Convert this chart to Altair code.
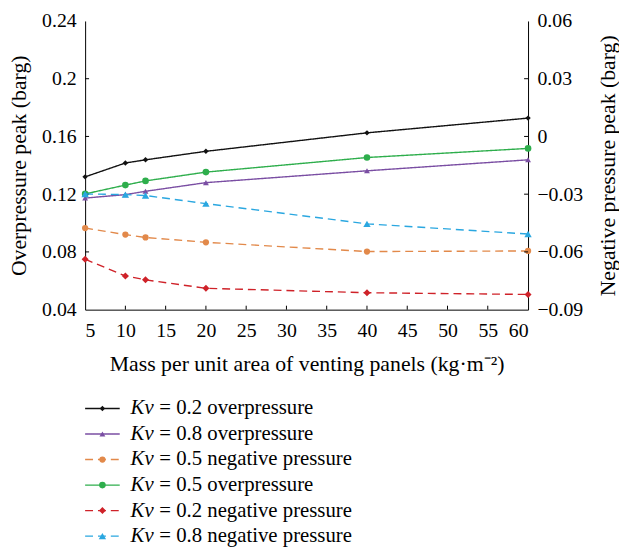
import altair as alt
import pandas as pd

mass = [5, 10, 12.5, 20, 40, 60]
kv02_over = [0.132, 0.1416, 0.1438, 0.1497, 0.1625, 0.1727]
kv08_over = [0.1173, 0.1197, 0.1220, 0.1280, 0.1362, 0.1438]
kv05_neg = [-0.0476, -0.0510, -0.0525, -0.0550, -0.0598, -0.0595]
kv05_over = [0.1202, 0.1263, 0.1292, 0.1353, 0.1454, 0.1517]
kv02_neg = [-0.0638, -0.0725, -0.0745, -0.0789, -0.0812, -0.0821]
kv08_neg = [-0.0299, -0.0302, -0.0307, -0.0349, -0.0454, -0.0507]

series_names = [
    "Kv = 0.2 overpressure",
    "Kv = 0.8 overpressure",
    "Kv = 0.5 negative pressure",
    "Kv = 0.5 overpressure",
    "Kv = 0.2 negative pressure",
    "Kv = 0.8 negative pressure",
]
series_values = [kv02_over, kv08_over, kv05_neg, kv05_over, kv02_neg, kv08_neg]
series_side = ["left", "left", "right", "left", "right", "right"]
legend_rest = [
    "= 0.2 overpressure",
    "= 0.8 overpressure",
    "= 0.5 negative pressure",
    "= 0.5 overpressure",
    "= 0.2 negative pressure",
    "= 0.8 negative pressure",
]
colors = ["#111111", "#7a4ea3", "#e2894a", "#2eae4c", "#cf2229", "#2aa7e0"]
shapes = ["diamond", "triangle-up", "circle", "circle", "diamond", "triangle-up"]
sizes = [30, 55, 75, 55, 42, 55]
dashes = [[1, 0], [1, 0], [8, 5], [1, 0], [8, 5], [8, 5]]

x_ticks = list(range(5, 61, 5))
left_ticks = [0.04, 0.08, 0.12, 0.16, 0.20, 0.24]
right_ticks = [-0.09, -0.06, -0.03, 0, 0.03, 0.06]

FONT = "Liberation Serif"
W, H = 448, 292

rows = []
for name, vals, side in zip(series_names, series_values, series_side):
    for m, v in zip(mass, vals):
        rows.append({"series": name, "mass": m, "value": v, "side": side})
df = pd.DataFrame(rows)

color = alt.Color("series:N", scale=alt.Scale(domain=series_names, range=colors), legend=None)
shape = alt.Shape("series:N", scale=alt.Scale(domain=series_names, range=shapes), legend=None)
size = alt.Size("series:N", scale=alt.Scale(domain=series_names, range=sizes), legend=None)
dash = alt.StrokeDash("series:N", scale=alt.Scale(domain=series_names, range=dashes), legend=None)

xenc = alt.X(
    "mass:Q",
    scale=alt.Scale(domain=[5, 60], nice=False, zero=False),
    axis=alt.Axis(values=x_ticks, title="Mass per unit area of venting panels (kg·m⁻²)",
                  labelPadding=11, titlePadding=14),
)
yleft = alt.Y(
    "value:Q",
    scale=alt.Scale(domain=[0.04, 0.24], nice=False, zero=False),
    axis=alt.Axis(values=left_ticks, format=".2~f", title="Overpressure peak (barg)",
                  labelPadding=9, titlePadding=11),
)
yright = alt.Y(
    "value:Q",
    scale=alt.Scale(domain=[-0.09, 0.06], nice=False, zero=False),
    axis=alt.Axis(values=right_ticks, format=".2~f", orient="right",
                  title="Negative pressure peak (barg)", titleAngle=270, titleBaseline="top",
                  labelPadding=9, titlePadding=15),
)

base = alt.Chart(df)
left_df = base.transform_filter(alt.datum.side == "left")
right_df = base.transform_filter(alt.datum.side == "right")

left_lines = left_df.mark_line(strokeWidth=1.4).encode(x=xenc, y=yleft, color=color, strokeDash=dash, detail="series:N")
left_pts = left_df.mark_point(filled=True, opacity=1).encode(x=xenc, y=yleft, color=color, shape=shape, size=size)
lt_df = pd.DataFrame({"value": left_ticks[1:-1]})
left_tk = alt.Chart(lt_df).mark_rule(color="black", strokeWidth=1).encode(
    y=yleft, x=alt.value(0), x2=alt.value(4))
left_layer = alt.layer(left_lines, left_pts, left_tk)

right_lines = right_df.mark_line(strokeWidth=1.4).encode(x=xenc, y=yright, color=color, strokeDash=dash, detail="series:N")
right_pts = right_df.mark_point(filled=True, opacity=1).encode(x=xenc, y=yright, color=color, shape=shape, size=size)
rt_df = pd.DataFrame({"value": right_ticks[1:-1]})
right_tk = alt.Chart(rt_df).mark_rule(color="black", strokeWidth=1).encode(
    y=yright, x=alt.value(W), x2=alt.value(W - 4))
right_layer = alt.layer(right_lines, right_pts, right_tk)

bt_df = pd.DataFrame({"mass": x_ticks[1:-1]})
bottom_tk = alt.Chart(bt_df).mark_rule(color="black", strokeWidth=1).encode(
    x=xenc, y=alt.value(H), y2=alt.value(H - 4))

main = alt.layer(left_layer, right_layer, bottom_tk).resolve_scale(y="independent").properties(
    width=W, height=H, view=alt.ViewBackground(stroke="black", strokeWidth=1))

leg_df = pd.DataFrame({
    "idx": list(range(len(series_names))),
    "series": series_names,
    "kv": ["Kv"] * len(series_names),
    "rest": legend_rest,
})
ly = alt.Y("idx:O", axis=None)
lbase = alt.Chart(leg_df)
leg_line = lbase.mark_rule(strokeWidth=1.4).encode(y=ly, x=alt.value(0), x2=alt.value(35), color=color, strokeDash=dash)
leg_pt = lbase.mark_point(filled=True, opacity=1).encode(y=ly, x=alt.value(17.5), color=color, shape=shape, size=size)
leg_kv = lbase.mark_text(align="left", baseline="middle", font=FONT, fontSize=21, fontStyle="italic", color="black").encode(
    y=ly, x=alt.value(46), text="kv:N")
leg_rest = lbase.mark_text(align="left", baseline="middle", font=FONT, fontSize=21, color="black").encode(
    y=ly, x=alt.value(75), text="rest:N")
legend = alt.layer(leg_line, leg_pt, leg_kv, leg_rest).properties(
    width=300, height=155, view=alt.ViewBackground(strokeOpacity=0))

chart = alt.vconcat(main, legend, spacing=21).configure(
    padding=0, font=FONT
).configure_view(
    strokeOpacity=0
).configure_axis(
    grid=False, ticks=False, domainColor="black", domainWidth=1,
    labelFont=FONT, labelFontSize=20, labelColor="black",
    titleFont=FONT, titleFontSize=22, titleFontWeight="normal", titleColor="black",
)

chart.save("out.html", embed_options={"renderer": "svg", "actions": False})
